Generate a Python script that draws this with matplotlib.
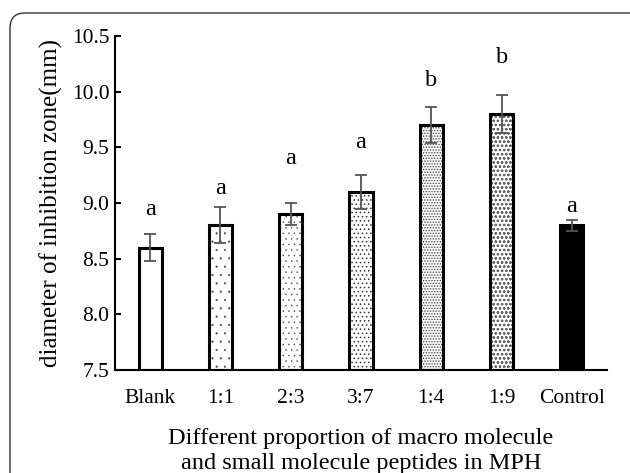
import matplotlib
matplotlib.use('Agg')
import matplotlib.pyplot as plt
from matplotlib.patches import FancyBboxPatch

plt.rcParams['font.family'] = ['Liberation Serif', 'DejaVu Serif']

groups = ['Blank', '1:1', '2:3', '3:7', '1:4', '1:9', 'Control']
means = [8.6, 8.8, 8.9, 9.1, 9.7, 9.8, 8.8]
errs = [0.12, 0.16, 0.10, 0.15, 0.16, 0.17, 0.05]
letters = ['a', 'a', 'a', 'a', 'b', 'b', 'a']
letter_y = [8.94, 9.13, 9.40, 9.54, 10.10, 10.31, 8.97]
hatches = ['', '..', '...', '....', '......', 'oooo']
hatch_lw = [0.3, 0.3, 0.3, 0.6, 0.7, 0.6]
hatch_col = ['#444444', '#444444', '#444444', '#333333', '#444444', '#666666']
yticks = [7.5, 8.0, 8.5, 9.0, 9.5, 10.0, 10.5]

fig = plt.figure(figsize=(6.3, 4.73), dpi=100)
ax = fig.add_axes([115/630, 1-370/473, (607-115)/630, (370-36)/473])

x = list(range(len(groups)))
w = 0.33
base = 7.5
heights = [m - base for m in means]

# hatch layer (grey), then black outline on top
for i in x:
    if i < len(hatches):
        with plt.rc_context({'hatch.linewidth': hatch_lw[i]}):
            ax.bar(i, heights[i], w, bottom=base, color='white', edgecolor=hatch_col[i],
                   hatch=hatches[i], linewidth=0, zorder=2)
        ax.bar(i, heights[i], w, bottom=base, color='none', edgecolor='black',
               linewidth=2.2, zorder=3)
    else:
        ax.bar(i, heights[i], w, bottom=base, color='black', edgecolor='black',
               linewidth=2.2, zorder=3)

ax.errorbar(x, means, yerr=errs, fmt='none', ecolor='#555555', elinewidth=1.3,
            capsize=4, capthick=1.3, zorder=4)

for i in x:
    ax.text(i, letter_y[i], letters[i], ha='center', va='center', fontsize=17.5)

ax.set_xlim(-0.5, 6.5)
ax.set_ylim(7.5, 10.5)
ax.set_yticks(yticks)
ax.set_yticklabels(['%.1f' % t for t in yticks])
ax.set_xticks(x)
ax.set_xticklabels(groups)
ax.tick_params(axis='x', length=0, pad=14, labelsize=15.5)
ax.tick_params(axis='y', direction='in', length=4, width=1.5, pad=4, labelsize=15.5)

for s in ['top', 'right']:
    ax.spines[s].set_visible(False)
for s in ['left', 'bottom']:
    ax.spines[s].set_linewidth(1.5)

ax.set_ylabel('diameter of inhibition zone(mm)', fontsize=18, labelpad=6)
ax.set_xlabel('Different proportion of macro molecule\nand small molecule peptides in MPH',
              fontsize=17.5, labelpad=14, linespacing=1.25)

frame = FancyBboxPatch((0.1, -0.5), 7.0, 4.73 - 0.13 + 0.5,
                       boxstyle='round,pad=0,rounding_size=0.15',
                       transform=fig.dpi_scale_trans, facecolor='none',
                       edgecolor='#333333', linewidth=1.0)
fig.add_artist(frame)

fig.savefig('out.png', dpi=100)
